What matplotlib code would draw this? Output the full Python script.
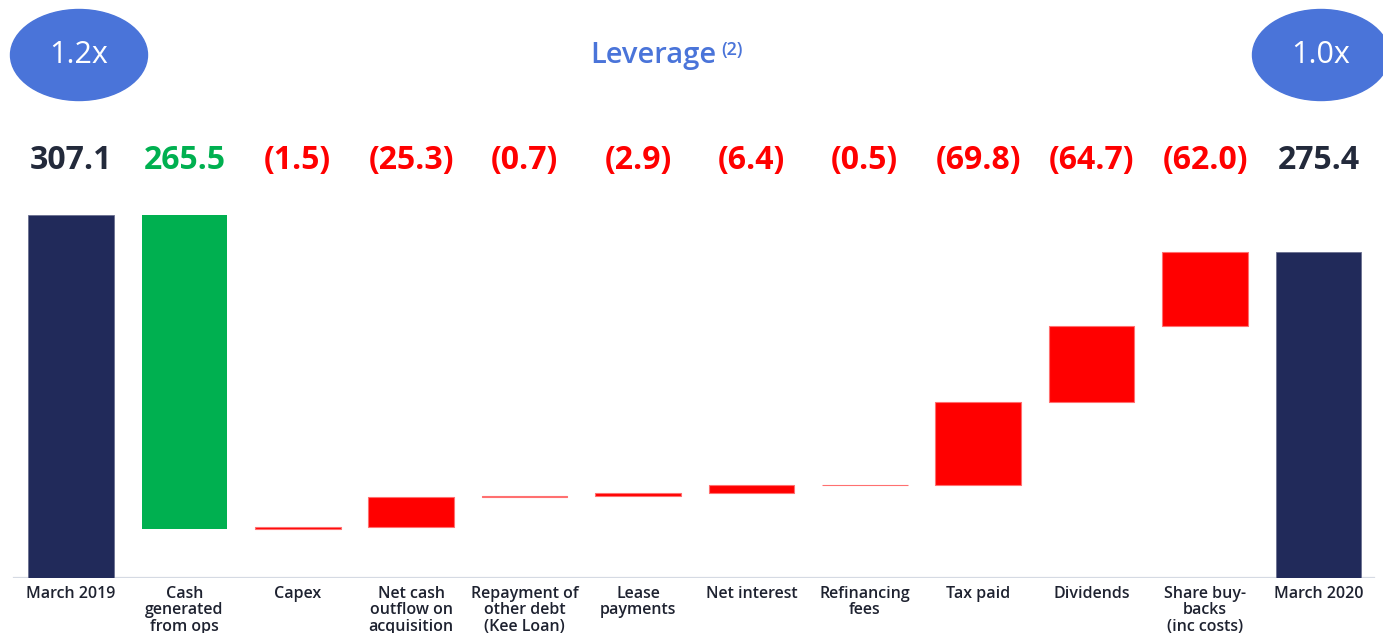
import matplotlib
matplotlib.use("Agg")
import matplotlib.pyplot as plt
from matplotlib.patches import Ellipse
import numpy as np

plt.rcParams['font.family'] = ['Open Sans', 'DejaVu Sans']

# Net debt bridge, £m
categories = ["March 2019", "Cash\ngenerated\nfrom ops", "Capex", "Net cash\noutflow on\nacquisition",
              "Repayment of\nother debt\n(Kee Loan)", "Lease\npayments", "Net interest",
              "Refinancing\nfees", "Tax paid", "Dividends", "Share buy-\nbacks\n(inc costs)", "March 2020"]
opening_net_debt = 307.1
closing_net_debt = 275.4
cash_flows = [265.5, -1.5, -25.3, -0.7, -2.9, -6.4, -0.5, -69.8, -64.7, -62.0]
leverage_open = "1.2x"
leverage_close = "1.0x"

NAVY = "#212a5a"
GREEN = "#00b050"
RED = "#ff0000"
BLUE = "#4a74d9"

W, H = 1383, 633
fig = plt.figure(figsize=(W / 100, H / 100), dpi=100)
fig.patch.set_facecolor("white")

ax = fig.add_axes([0, 55 / H, 1, 363 / H])
step = 113.4
ax.set_xlim(-71 / step, (W - 71) / step)
ax.set_ylim(0, opening_net_debt)
ax.axis("off")

x = np.arange(len(categories))
bw = 0.755

# opening / closing totals
ax.bar(x[0], opening_net_debt, width=bw, color=NAVY, edgecolor="#6a7090", linewidth=0.6)
ax.bar(x[-1], closing_net_debt, width=bw, color=NAVY, edgecolor="#6a7090", linewidth=0.6)

labels = [(f"{opening_net_debt:.1f}", "#232a3b")]
level = opening_net_debt
for i, cf in enumerate(cash_flows, start=1):
    new_level = level - cf
    lo, hi = min(level, new_level), max(level, new_level)
    if cf > 0:
        ax.bar(x[i], hi - lo, bottom=lo, width=bw, color=GREEN, linewidth=0)
        labels.append((f"{cf:.1f}", GREEN))
    else:
        ax.bar(x[i], hi - lo, bottom=lo, width=bw, color=RED,
               edgecolor="#ff7070", linewidth=0.8)
        labels.append((f"({-cf:.1f})", RED))
    level = new_level
labels.append((f"{closing_net_debt:.1f}", "#232a3b"))

# value labels above the bars
for xi, (txt, col) in zip(x, labels):
    ax.text(xi, opening_net_debt + 46.5, txt, ha="center", va="center",
            fontsize=23, fontweight="bold", color=col, clip_on=False)

# baseline
ax.axhline(0, xmin=14 / W, xmax=1374 / W, color="#d5dae3", linewidth=1.6, zorder=0)

# category labels
for xi, cat in zip(x, categories):
    ax.text(xi, -6.5, cat, ha="center", va="top", fontsize=11.5, fontweight="semibold",
            color="#1e2230", linespacing=1.05, clip_on=False)

# leverage badges
for cx, txt in [(79, leverage_open), (1321, leverage_close)]:
    fig.add_artist(Ellipse((cx / W, 1 - 55 / H), 137 / W, 91 / H,
                           transform=fig.transFigure, color=BLUE, zorder=1))
    fig.text(cx / W, 1 - 55 / H, txt, ha="center", va="center", color="white",
             fontsize=22, fontweight="medium", zorder=2)

fig.text(716 / W, 1 - 55 / H, "Leverage", ha="right", va="center", color=BLUE,
         fontsize=21, fontweight="semibold")
fig.text(721 / W, 1 - 50 / H, "(2)", ha="left", va="center", color=BLUE,
         fontsize=13, fontweight="semibold")

fig.savefig("out.png", dpi=100, facecolor="white")
